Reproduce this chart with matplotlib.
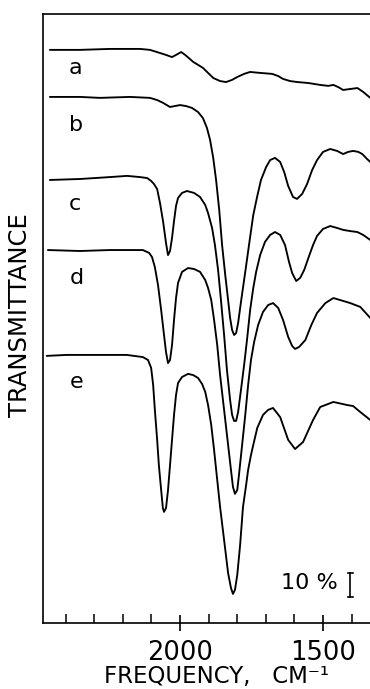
import matplotlib
matplotlib.use("Agg")
import matplotlib.pyplot as plt
from matplotlib.ticker import FixedLocator

# ---- data (wavenumber in cm^-1, transmittance in %, spectra offset vertically) ----
a_wn = [2455, 2350, 2245, 2140, 2105, 2070, 2049, 2028, 2014, 1996, 1982, 1954, 1920, 1884,
        1860, 1839, 1818, 1800, 1776, 1755, 1720, 1678, 1657, 1640, 1615, 1590, 1552, 1510,
        1482, 1464, 1447, 1430, 1405, 1380, 1360, 1335]
a_t = [238.8, 238.8, 239.2, 239.2, 238.8, 237.5, 236.7, 235.8, 236.7, 237.9, 236.7, 233.8, 231.3,
       227.1, 225.8, 225.4, 226.3, 227.5, 228.8, 229.6, 229.2, 228.8, 227.9, 226.7, 225.8, 225.4,
       225.0, 224.2, 223.8, 224.2, 223.3, 222.1, 222.5, 222.9, 221.3, 218.8]

b_wn = [2455, 2350, 2280, 2175, 2105, 2080, 2059, 2035, 2018, 2000, 1979, 1958, 1937, 1920,
        1906, 1895, 1884, 1874, 1863, 1853, 1842, 1832, 1825, 1818, 1811, 1804, 1797, 1787,
        1772, 1758, 1744, 1730, 1717, 1699, 1685, 1668, 1650, 1636, 1622, 1605, 1591, 1573,
        1556, 1538, 1521, 1500, 1475, 1451, 1430, 1412, 1395, 1377, 1363, 1346, 1335]
b_t = [219.2, 219.2, 218.8, 219.2, 218.8, 217.9, 216.7, 215.0, 215.4, 215.8, 215.4, 214.6, 212.9,
       210.4, 206.3, 201.3, 193.8, 184.6, 172.1, 157.5, 145.0, 134.6, 127.1, 122.1, 120.0, 120.8,
       125.0, 133.8, 146.3, 158.3, 170.0, 177.9, 184.6, 190.0, 192.9, 193.8, 192.1, 187.9, 182.1,
       177.5, 176.7, 178.8, 182.9, 188.8, 192.9, 196.3, 197.5, 196.7, 195.4, 196.3, 196.7, 196.3,
       195.4, 193.3, 192.1]

c_wn = [2455, 2350, 2245, 2185, 2140, 2115, 2101, 2091, 2080, 2070, 2059, 2049, 2042, 2035,
        2028, 2021, 2014, 2007, 1993, 1976, 1951, 1930, 1912, 1902, 1888, 1878, 1867, 1857,
        1846, 1836, 1825, 1818, 1811, 1804, 1797, 1787, 1776, 1766, 1755, 1744, 1734, 1720,
        1703, 1685, 1668, 1650, 1633, 1619, 1608, 1594, 1580, 1566, 1549, 1535, 1521, 1500,
        1475, 1451, 1430, 1405, 1380, 1360, 1335]
c_t = [184.6, 185.0, 185.8, 186.3, 185.8, 185.4, 184.2, 182.9, 180.8, 175.0, 167.1, 158.3, 153.3,
       155.0, 160.4, 167.5, 173.8, 177.1, 179.2, 180.0, 179.2, 177.5, 174.2, 170.8, 164.6, 157.5,
       147.1, 134.6, 120.0, 105.4, 92.9, 86.7, 84.2, 84.2, 87.9, 97.1, 107.5, 117.9, 130.4, 139.6,
       146.3, 153.3, 158.8, 161.7, 162.9, 161.7, 157.5, 150.4, 145.8, 142.5, 143.8, 147.1, 152.9,
       157.5, 161.3, 164.2, 165.4, 164.6, 163.8, 163.3, 162.9, 161.7, 159.6]

d_wn = [2462, 2350, 2245, 2130, 2108, 2098, 2088, 2077, 2066, 2056, 2049, 2042, 2035, 2028,
        2021, 2014, 2007, 1993, 1972, 1951, 1930, 1912, 1902, 1891, 1881, 1870, 1860, 1846,
        1832, 1822, 1815, 1808, 1800, 1794, 1783, 1772, 1762, 1752, 1741, 1727, 1710, 1692,
        1675, 1657, 1640, 1622, 1608, 1598, 1584, 1562, 1541, 1521, 1492, 1464, 1430, 1405,
        1370, 1335]
d_t = [155.4, 155.0, 155.4, 155.4, 154.2, 152.5, 148.3, 140.8, 130.4, 120.0, 112.9, 108.3, 109.6,
       115.8, 126.3, 135.4, 141.7, 146.3, 147.9, 147.5, 146.3, 142.9, 139.6, 134.6, 126.3, 115.8,
       103.3, 88.8, 74.2, 63.8, 56.7, 53.8, 55.4, 61.7, 74.2, 86.7, 99.2, 109.6, 117.1, 124.2,
       129.6, 132.5, 133.3, 131.3, 126.3, 119.2, 115.4, 114.2, 115.0, 117.9, 124.2, 129.2, 133.3,
       135.4, 134.2, 133.3, 131.7, 127.1]

e_wn = [2466, 2396, 2280, 2186, 2130, 2112, 2101, 2094, 2088, 2080, 2074, 2066, 2060, 2056,
        2049, 2042, 2035, 2028, 2021, 2014, 2007, 1993, 1972, 1954, 1937, 1923, 1912, 1902,
        1891, 1881, 1870, 1860, 1846, 1832, 1822, 1815, 1808, 1800, 1790, 1780, 1769, 1762,
        1752, 1744, 1730, 1710, 1692, 1675, 1650, 1622, 1598, 1570, 1535, 1510, 1464, 1415,
        1395, 1370, 1335]
e_t = [111.3, 111.7, 111.7, 111.7, 110.8, 109.6, 106.3, 99.2, 88.8, 76.3, 65.8, 55.4, 47.9, 46.3,
       47.9, 55.4, 65.8, 76.3, 86.7, 95.0, 100.0, 102.5, 103.8, 103.3, 102.1, 99.6, 96.3, 90.8,
       82.5, 72.1, 59.6, 48.3, 34.6, 20.8, 14.6, 12.1, 13.8, 20.0, 32.5, 48.3, 57.5, 63.8, 70.0,
       74.2, 81.3, 86.7, 88.8, 89.6, 85.8, 76.3, 72.5, 75.4, 84.6, 90.0, 92.1, 90.8, 90.4, 87.9,
       84.6]

curve_labels = ["a", "b", "c", "d", "e"]
label_wn = [2364, 2364, 2367, 2360, 2360]
label_t = [231.3, 207.5, 174.6, 143.8, 100.4]

major_ticks = [2000, 1500]
minor_ticks = [2400, 2300, 2200, 2100, 1900, 1800, 1700, 1600, 1400]
scale_wn = 1405
scale_lo, scale_hi = 10.8, 20.8

# ---- figure ----
W, H = 370, 689
fig = plt.figure(figsize=(W / 100, H / 100), dpi=100)
ax = fig.add_axes([43 / W, 66 / H, 1 - 43 / W, 609 / H])

lw = 1.35
for wn, t in [(a_wn, a_t), (b_wn, b_t), (c_wn, c_t), (d_wn, d_t), (e_wn, e_t)]:
    ax.plot(wn, t, color="black", lw=lw, solid_joinstyle="round", solid_capstyle="round")

ax.set_xlim(2479, 1336)
ax.set_ylim(0, 253.75)

font = "DejaVu Sans"
for lab, x, y in zip(curve_labels, label_wn, label_t):
    ax.text(x, y, lab, fontsize=16, ha="center", va="center", family=font)

# 10% scale bar
ax.plot([scale_wn, scale_wn], [scale_lo, scale_hi], color="black", lw=1.2)
ax.plot([scale_wn - 9, scale_wn + 9], [scale_lo, scale_lo], color="black", lw=1.2)
ax.plot([scale_wn - 9, scale_wn + 9], [scale_hi, scale_hi], color="black", lw=1.2)
ax.text(1447, (scale_lo + scale_hi) / 2 + 1.0, "10 %", fontsize=16, ha="right", va="center",
        family=font)

for s in ["left", "bottom", "top"]:
    ax.spines[s].set_linewidth(1.2)
ax.spines["right"].set_visible(False)

ax.set_yticks([])
ax.xaxis.set_major_locator(FixedLocator(major_ticks))
ax.xaxis.set_minor_locator(FixedLocator(minor_ticks))
ax.tick_params(axis="x", which="major", direction="inout", length=12, width=1.2, pad=6,
               labelsize=18.5)
ax.tick_params(axis="x", which="minor", direction="in", length=6.5, width=1.1)
for t in ax.get_xticklabels():
    t.set_family(font)

fig.text(216 / W, 1 - 676 / H, "FREQUENCY,   CM\u207b\u00b9", fontsize=16.5, ha="center",
         va="center", family=font)
fig.text(20 / W, 1 - 315 / H, "TRANSMITTANCE", fontsize=17.5, rotation=90, ha="center",
         va="center", family=font)

fig.savefig("out.png", dpi=100)
